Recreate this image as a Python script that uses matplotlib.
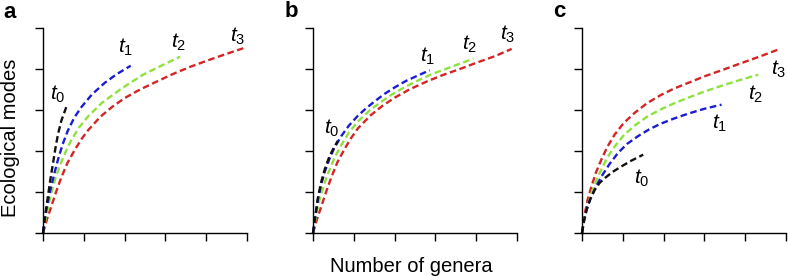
import matplotlib
matplotlib.use("Agg")
import matplotlib.pyplot as plt

plt.rcParams['font.family'] = ['Liberation Sans', 'DejaVu Sans']
plt.rcParams['mathtext.fontset'] = 'custom'
plt.rcParams['mathtext.it'] = 'Liberation Sans:italic'
plt.rcParams['mathtext.rm'] = 'Liberation Sans'

#region data
labels = ['$t_0$', '$t_1$', '$t_2$', '$t_3$']
colors = ['#111111', '#1c1cd4', '#8fe23e', '#d42424']
panels = ['a', 'b', 'c']

# panel a
a_t0_x = [0, 0.06, 0.12, 0.18, 0.245, 0.31, 0.37, 0.45, 0.57]
a_t0_y = [0, 0.48, 0.89, 1.30, 1.70, 2.10, 2.42, 2.74, 3.07]
a_t1_x = [0, 0.04, 0.08, 0.14, 0.20, 0.28, 0.37, 0.48, 0.61, 0.77, 0.94, 1.2, 1.51, 1.8, 2.15]
a_t1_y = [0, 0.30, 0.56, 0.86, 1.13, 1.46, 1.80, 2.16, 2.50, 2.82, 3.07, 3.38, 3.66, 3.87, 4.08]
a_t2_x = [0, 0.05, 0.10, 0.20, 0.30, 0.41, 0.55, 0.69, 0.88, 1.10, 1.45, 1.92, 2.45, 2.9, 3.36]
a_t2_y = [0, 0.28, 0.53, 0.97, 1.32, 1.64, 1.97, 2.26, 2.57, 2.84, 3.18, 3.52, 3.86, 4.08, 4.30]
a_t3_x = [0, 0.10, 0.20, 0.32, 0.45, 0.60, 0.78, 0.95, 1.10, 1.40, 1.70, 2.00, 2.38, 2.80, 3.19, 3.60, 4.01, 4.50, 4.95]
a_t3_y = [0, 0.34, 0.64, 1.00, 1.36, 1.71, 2.03, 2.30, 2.50, 2.83, 3.08, 3.29, 3.50, 3.70, 3.88, 4.05, 4.20, 4.37, 4.52]

# panel b
b_t0_x = [0, 0.06, 0.12, 0.20, 0.29, 0.40, 0.50, 0.61]
b_t0_y = [0, 0.45, 0.86, 1.24, 1.56, 1.86, 2.06, 2.25]
b_t1_x = [0, 0.06, 0.12, 0.20, 0.29, 0.40, 0.52, 0.69, 0.88, 1.10, 1.30, 1.51, 1.75, 2.00, 2.28, 2.57, 2.86]
b_t1_y = [0, 0.42, 0.81, 1.18, 1.50, 1.80, 2.07, 2.36, 2.62, 2.86, 3.04, 3.21, 3.39, 3.55, 3.71, 3.84, 3.97]
b_t2_x = [0, 0.08, 0.16, 0.26, 0.37, 0.52, 0.69, 0.88, 1.10, 1.40, 1.70, 1.92, 2.25, 2.57, 2.90, 3.25, 3.60, 3.93]
b_t2_y = [0, 0.45, 0.81, 1.15, 1.46, 1.82, 2.14, 2.45, 2.72, 3.00, 3.22, 3.37, 3.56, 3.72, 3.87, 4.00, 4.13, 4.25]
b_t3_x = [0, 0.10, 0.20, 0.32, 0.45, 0.60, 0.78, 0.95, 1.10, 1.40, 1.70, 2.00, 2.38, 2.80, 3.20, 3.60, 4.00, 4.45, 4.87]
b_t3_y = [0, 0.34, 0.64, 1.00, 1.36, 1.73, 2.06, 2.34, 2.55, 2.86, 3.10, 3.30, 3.51, 3.70, 3.86, 4.00, 4.15, 4.31, 4.49]

# panel c
c_t0_x = [0, 0.05, 0.11, 0.20, 0.31, 0.43, 0.56, 0.75, 0.96, 1.20, 1.50]
c_t0_y = [0, 0.30, 0.56, 0.82, 1.05, 1.22, 1.34, 1.49, 1.62, 1.76, 1.91]
c_t1_x = [0, 0.05, 0.11, 0.20, 0.31, 0.40, 0.51, 0.68, 0.88, 1.10, 1.37, 1.65, 1.94, 2.25, 2.60, 3.00, 3.42]
c_t1_y = [0, 0.30, 0.56, 0.82, 1.06, 1.24, 1.43, 1.69, 1.95, 2.17, 2.36, 2.53, 2.67, 2.79, 2.91, 3.03, 3.13]
c_t2_x = [0, 0.05, 0.12, 0.23, 0.35, 0.47, 0.62, 0.80, 1.02, 1.29, 1.60, 1.94, 2.25, 2.60, 3.00, 3.45, 3.90, 4.32]
c_t2_y = [0, 0.30, 0.60, 0.97, 1.28, 1.54, 1.84, 2.11, 2.38, 2.62, 2.84, 3.02, 3.16, 3.30, 3.45, 3.60, 3.74, 3.86]
c_t3_x = [0, 0.03, 0.07, 0.14, 0.23, 0.34, 0.47, 0.62, 0.80, 1.02, 1.29, 1.60, 1.94, 2.25, 2.60, 3.00, 3.45, 3.95, 4.40, 4.85]
c_t3_y = [0, 0.25, 0.48, 0.82, 1.13, 1.47, 1.78, 2.10, 2.40, 2.68, 2.93, 3.17, 3.37, 3.52, 3.66, 3.82, 3.98, 4.16, 4.32, 4.49]

# label anchor points (data coords)
a_lab = [(0.37, 3.37), (2.03, 4.52), (3.33, 4.64), (4.78, 4.79)]
b_lab = [(0.45, 2.56), (2.82, 4.31), (3.85, 4.60), (4.78, 4.84)]
c_lab = [(1.47, 1.34), (3.37, 2.68), (4.26, 3.37), (4.81, 3.98)]
#endregion

#region plots
curves = {
    'a': [(a_t0_x, a_t0_y), (a_t1_x, a_t1_y), (a_t2_x, a_t2_y), (a_t3_x, a_t3_y)],
    'b': [(b_t0_x, b_t0_y), (b_t1_x, b_t1_y), (b_t2_x, b_t2_y), (b_t3_x, b_t3_y)],
    'c': [(c_t0_x, c_t0_y), (c_t1_x, c_t1_y), (c_t2_x, c_t2_y), (c_t3_x, c_t3_y)],
}
lab_pos = {'a': a_lab, 'b': b_lab, 'c': c_lab}

W, H = 788, 277
fig = plt.figure(figsize=(W / 100, H / 100), dpi=100)
lefts = [43, 313, 582]

for p, left in zip(panels, lefts):
    ax = fig.add_axes([left / W, (H - 233) / H, 204 / W, 205 / H])
    # draw t3 first so t0 ends up on top
    for i in [3, 2, 1, 0]:
        x, y = curves[p][i]
        ax.plot(x, y, color=colors[i], lw=1.7, dashes=(2.8, 1.5), clip_on=False)
    for i, (lx, ly) in enumerate(lab_pos[p]):
        ax.text(lx, ly, labels[i], fontsize=15, ha='center', va='center')
    ax.set_xlim(0, 5)
    ax.set_ylim(0, 5)
    ax.set_xticks(range(6))
    ax.set_yticks(range(6))
    ax.set_xticklabels([])
    ax.set_yticklabels([])
    ax.tick_params(direction='out', length=6, width=1.0)
    for s in ['top', 'right']:
        ax.spines[s].set_visible(False)
    for s in ['left', 'bottom']:
        ax.spines[s].set_linewidth(1.0)
    ax.patch.set_alpha(0)

fig.text(3 / W, 1 - 18 / H, 'a', fontsize=16, fontweight='bold', va='baseline')
fig.text(285 / W, 1 - 17 / H, 'b', fontsize=16, fontweight='bold', va='baseline')
fig.text(553 / W, 1 - 17 / H, 'c', fontsize=16, fontweight='bold', va='baseline')

fig.text(411 / W, 1 - 266 / H, 'Number of genera', fontsize=14.5, ha='center', va='center')
fig.text(11 / W, 1 - 138 / H, 'Ecological modes', fontsize=14.5, rotation=90,
         ha='center', va='center')

fig.savefig('out.png', dpi=100)
#endregion
